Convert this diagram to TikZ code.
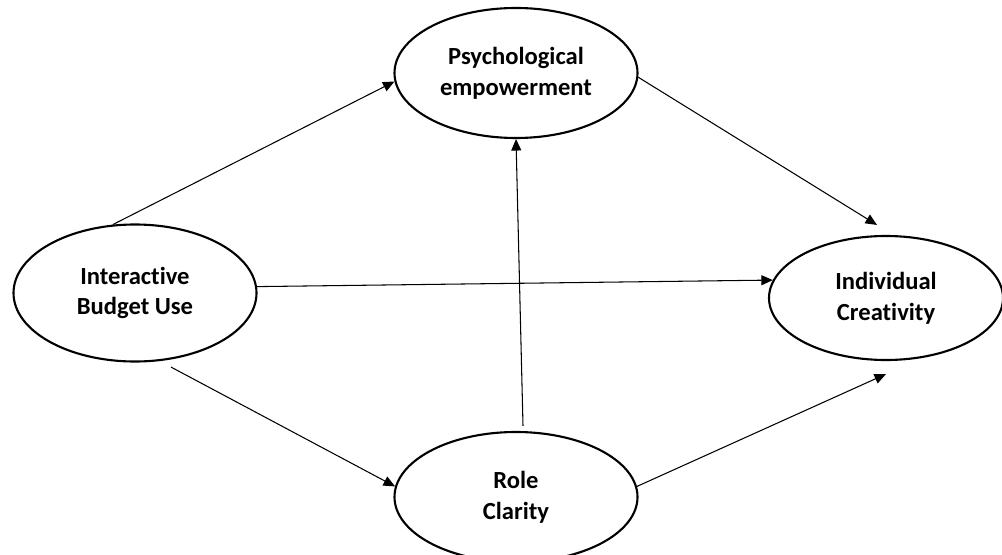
\documentclass[tikz,border=0pt]{standalone}
\usepackage{fontspec}
\setmainfont{Carlito}[Ligatures=NoCommon]
\usetikzlibrary{shapes.geometric,arrows.meta}
\begin{document}
\begin{tikzpicture}[font=\bfseries\fontsize{14}{17.5}\selectfont,
        var/.style={draw, ellipse, line width=1.2pt, align=center,
                    inner sep=1pt, minimum width=4.86cm, minimum height=2.6cm},
        link/.style={-{Triangle[length=2.3mm,width=2mm]}, line width=0.6pt}]
      \useasboundingbox (0,0) rectangle (20.04,11.08);
      % Variables
      \node[var] (psych) at (10.32, 9.62) {Psychological\\empowerment};
      \node[var, minimum height=2.74cm] (ibu) at (2.70, 5.22) {Interactive\\Budget Use};
      \node[var, minimum width=4.68cm, minimum height=2.48cm] (ic) at (17.72, 5.12) {Individual\\Creativity};
      \node[var] (rc) at (10.32, 1.14) {Role\\Clarity};
      % Free ends
      \coordinate (ic-above) at ([xshift=-0.18cm, yshift=0.2cm]ic.north);
      \coordinate (ic-below) at ([yshift=-0.26cm]ic.south);
      \coordinate (ibu-below) at ([xshift=0.72cm, yshift=-0.09cm]ibu.south);
      \coordinate (rc-above) at ([xshift=0.14cm, yshift=0.1cm]rc.north);
      % Paths
      \draw[link] (ibu.108) -- (psych.184);
      \draw[link] (psych.358) -- (ic-above);
      \draw[link] (ibu.3) -- (ic.171);
      \draw[link] (ibu-below) -- (rc.175);
      \draw[link] (rc-above) -- (psych.south);
      \draw[link] (rc.5) -- (ic-below);
\end{tikzpicture}
\end{document}
